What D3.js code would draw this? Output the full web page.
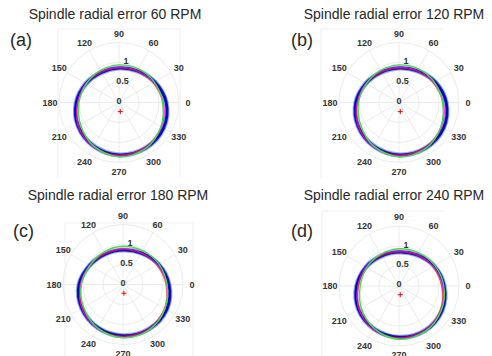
<!DOCTYPE html>
<html lang="en">
<head>
<meta charset="UTF-8">
<title>Spindle radial error</title>
<style>
  * { margin: 0; padding: 0 }
  body { background: #fff; }
  svg { display: block; font-family: "Liberation Sans", Arial, sans-serif; }
</style>
</head>
<body>
<svg id="chart" width="492" height="356"></svg>
<script src="https://d3js.org/d3.v7.min.js"></script>
<script>
// polar axis ticks
const angleTicks = [0, 30, 60, 90, 120, 150, 180, 210, 240, 270, 300, 330];
const radiusTicks = [0, 0.5, 1];
const rMax = 1.5;

const titles = ['Spindle radial error 60 RPM', 'Spindle radial error 120 RPM',
                'Spindle radial error 180 RPM', 'Spindle radial error 240 RPM'];
const tags = ['(a)', '(b)', '(c)', '(d)'];

// measured profile (blue), radius at each angle tick
const measuredA = [1.18, 1.03, 0.915, 0.86, 0.87, 0.95, 1.07, 1.18, 1.26, 1.31, 1.32, 1.285];
const measuredB = [1.18, 1.04, 0.915, 0.86, 0.875, 0.955, 1.08, 1.18, 1.26, 1.31, 1.32, 1.285];
const measuredC = [1.15, 1.02, 0.91, 0.86, 0.88, 0.96, 1.10, 1.19, 1.25, 1.28, 1.29, 1.26];
const measuredD = [1.13, 1.01, 0.90, 0.85, 0.87, 0.95, 1.06, 1.17, 1.24, 1.28, 1.29, 1.24];

// least squares circle (red)
const lscA = [1.11, 1.00, 0.92, 0.88, 0.89, 0.96, 1.04, 1.18, 1.29, 1.33, 1.31, 1.23];
const lscB = [1.11, 1.00, 0.92, 0.88, 0.89, 0.96, 1.05, 1.18, 1.29, 1.33, 1.31, 1.23];
const lscC = [1.09, 0.99, 0.92, 0.89, 0.90, 0.97, 1.07, 1.19, 1.28, 1.31, 1.29, 1.21];
const lscD = [1.08, 0.99, 0.91, 0.87, 0.89, 0.96, 1.03, 1.16, 1.27, 1.31, 1.29, 1.21];

// reference circle (green)
const refA = [1.09, 1.02, 0.97, 0.94, 0.925, 0.94, 1.0, 1.11, 1.26, 1.36, 1.33, 1.21];
const refB = [1.09, 1.02, 0.97, 0.94, 0.925, 0.94, 1.01, 1.11, 1.26, 1.36, 1.33, 1.21];
const refC = [1.10, 1.03, 0.975, 0.955, 0.94, 0.95, 1.04, 1.14, 1.26, 1.33, 1.31, 1.21];
const refD = [1.12, 1.03, 0.965, 0.93, 0.915, 0.93, 0.97, 1.09, 1.23, 1.33, 1.31, 1.22];

// fitted centre (red +), polar coords
const centreR = [0.23, 0.23, 0.22, 0.22];
const centreDeg = [278, 278, 276, 278];

const measured = [measuredA, measuredB, measuredC, measuredD];
const lsc = [lscA, lscB, lscC, lscD];
const ref = [refA, refB, refC, refD];

// layout of the four panels
const panels = [
  { cx: 119, cy: 102.5, tx: 115, ty: 19, gx: 10, gy: 46, frame: [58, 29, 180, 178] },
  { cx: 399, cy: 102.5, tx: 394, ty: 19, gx: 291, gy: 46, frame: [321, 29, null, 178] },
  { cx: 123, cy: 284.5, tx: 118, ty: 200, gx: 13, gy: 237, frame: [65, 223, 193, 356] },
  { cx: 399, cy: 286, tx: 394, ty: 200, gx: 291, gy: 237, frame: [322, 211, null, 356] }
];

const svg = d3.select('#chart');

const rScale = d3.scaleLinear().domain([0, rMax]).range([0, 60]);
// math angle (ccw from east) -> d3 radial angle (cw from north)
const aScale = d3.scaleLinear().domain([0, 360]).range([Math.PI / 2, Math.PI / 2 - 2 * Math.PI]);

const radial = d3.lineRadial()
  .angle((d, i) => aScale(angleTicks[i]))
  .radius(d => rScale(d))
  .curve(d3.curveCatmullRomClosed);

panels.forEach((p, k) => {
  // faint frame edges
  const f = p.frame;
  const fr = svg.append('g').attr('stroke', '#efefef').attr('stroke-width', 1);
  fr.append('line').attr('x1', f[0]).attr('x2', f[0]).attr('y1', f[1]).attr('y2', f[3]);
  if (f[2] != null) {
    fr.append('line').attr('x1', f[2]).attr('x2', f[2]).attr('y1', f[1]).attr('y2', f[3]);
    fr.append('line').attr('x1', f[0]).attr('x2', f[2]).attr('y1', f[1]).attr('y2', f[1]);
  } else {
    fr.append('line').attr('x1', f[0]).attr('x2', f[0] + 122).attr('y1', f[1]).attr('y2', f[1]);
  }

  svg.append('text')
    .attr('x', p.tx).attr('y', p.ty)
    .attr('text-anchor', 'middle')
    .attr('font-size', 14)
    .attr('fill', '#262626')
    .text(titles[k]);

  svg.append('text')
    .attr('x', p.gx).attr('y', p.gy)
    .attr('font-size', 18)
    .attr('fill', '#262626')
    .text(tags[k]);

  const g = svg.append('g').attr('transform', `translate(${p.cx},${p.cy})`);

  // grid
  g.selectAll('circle.grid')
    .data([0.5, 1, 1.5])
    .join('circle')
    .attr('class', 'grid')
    .attr('r', d => rScale(d))
    .attr('fill', 'none')
    .attr('stroke', '#e6e6e6')
    .attr('stroke-width', 0.8);

  g.selectAll('line.spoke')
    .data(angleTicks)
    .join('line')
    .attr('class', 'spoke')
    .attr('x1', 0).attr('y1', 0)
    .attr('x2', d => d3.pointRadial(aScale(d), rScale(rMax))[0])
    .attr('y2', d => d3.pointRadial(aScale(d), rScale(rMax))[1])
    .attr('stroke', '#e6e6e6')
    .attr('stroke-width', 0.8);

  // angle labels
  g.selectAll('text.ang')
    .data(angleTicks)
    .join('text')
    .attr('class', 'ang')
    .attr('x', d => d3.pointRadial(aScale(d), rScale(rMax) + 9)[0])
    .attr('y', d => d3.pointRadial(aScale(d), rScale(rMax) + 9)[1])
    .attr('text-anchor', 'middle')
    .attr('dominant-baseline', 'central')
    .attr('font-size', 9)
    .attr('font-weight', 'bold')
    .attr('fill', '#333')
    .text(d => d);

  // radius labels along 80 deg
  g.selectAll('text.rad')
    .data(radiusTicks)
    .join('text')
    .attr('class', 'rad')
    .attr('x', d => d3.pointRadial(aScale(80), rScale(d))[0])
    .attr('y', d => d3.pointRadial(aScale(80), rScale(d))[1] - 2)
    .attr('text-anchor', 'middle')
    .attr('dominant-baseline', 'central')
    .attr('font-size', 9)
    .attr('font-weight', 'bold')
    .attr('fill', '#333')
    .text(d => d);

  // measured profile
  g.append('path').attr('d', radial(measured[k]))
    .attr('fill', 'none').attr('stroke', '#4a7bd8').attr('stroke-width', 5).attr('opacity', 0.6);
  g.append('path').attr('d', radial(measured[k]))
    .attr('fill', 'none').attr('stroke', '#1414cc').attr('stroke-width', 3);
  g.append('path').attr('d', radial(measured[k]))
    .attr('fill', 'none').attr('stroke', '#000090').attr('stroke-width', 0.9);

  // lsc circles
  g.append('path').attr('d', radial(lsc[k]))
    .attr('fill', 'none').attr('stroke', '#ff00ff').attr('stroke-width', 0.9);
  g.append('path').attr('d', radial(lsc[k].map(v => v - 0.02)))
    .attr('fill', 'none').attr('stroke', '#ff2020').attr('stroke-width', 0.7);

  // reference circle
  g.append('path').attr('d', radial(ref[k]))
    .attr('fill', 'none').attr('stroke', '#45e045').attr('stroke-width', 1.4);

  // fitted centre
  const c = d3.pointRadial(aScale(centreDeg[k]), rScale(centreR[k]));
  g.append('path')
    .attr('d', `M${c[0] - 2.5},${c[1]}H${c[0] + 2.5}M${c[0]},${c[1] - 2.5}V${c[1] + 2.5}`)
    .attr('stroke', '#ff0000').attr('stroke-width', 1);
});
</script>
</body>
</html>
